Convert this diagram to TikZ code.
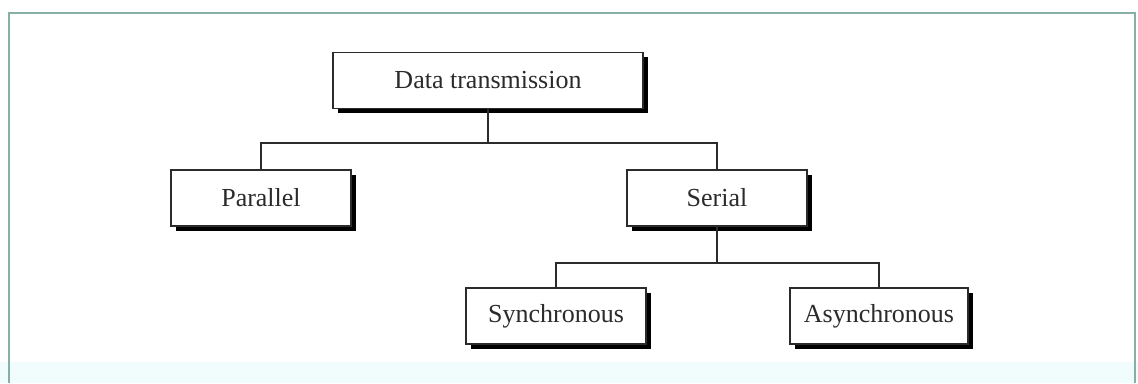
\documentclass[tikz,border=0pt]{standalone}
\usepackage{fontspec}
\setmainfont{Liberation Serif}
\usetikzlibrary{shadows}
\definecolor{framegreen}{HTML}{86AFA6}
\definecolor{bandcyan}{HTML}{F1FCFC}
\definecolor{inkgray}{HTML}{2B2B2B}

\tikzset{
  box/.style={draw=inkgray, line width=1.4pt, fill=white, minimum height=56pt,
    minimum width=180pt, inner sep=0pt, text=inkgray,
    font=\fontsize{26}{30}\selectfont,
    drop shadow={shadow xshift=5pt, shadow yshift=-5pt, fill=black, opacity=1}},
  link/.style={draw=inkgray, line width=2pt}
}

\begin{document}
\begin{tikzpicture}[x=1pt,y=1pt]
  \useasboundingbox (0,0) rectangle (1138,383);

  % ---------- frame ----------
  \fill[bandcyan] (0,0) rectangle (1138,21);
  \draw[framegreen, line width=2pt] (9,0) -- (9,370) -- (1135,370) -- (1135,0);

  % ---------- boxes ----------
  \node[box, minimum width=310pt] (data) at (488,302.5) {Data transmission};
  \node[box] (par) at (261,185) {Parallel};
  \node[box] (ser) at (717,185) {Serial};
  \node[box] (syn) at (556,67) {Synchronous};
  \node[box, minimum width=178pt] (asy) at (879,67) {Asynchronous};

  % ---------- connectors ----------
  \coordinate (split1) at (data.south |- 0,240);
  \draw[link] (data.south) -- (split1) -| (par.north);
  \draw[link] (split1) -| (ser.north);

  \coordinate (split2) at (ser.south |- 0,120);
  \draw[link] (ser.south) -- (split2) -| (syn.north);
  \draw[link] (split2) -| (asy.north);
\end{tikzpicture}
\end{document}
